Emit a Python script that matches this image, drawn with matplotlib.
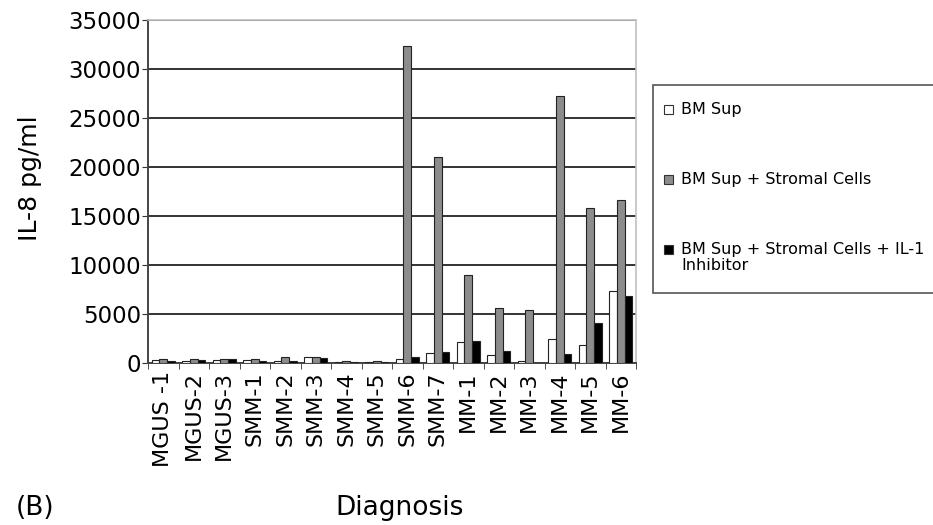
import numpy as np
import matplotlib.pyplot as plt
from matplotlib.patches import Rectangle

plt.rcParams['font.family'] = ['DejaVu Sans']

# values (pg/ml)
diagnosis = ["MGUS -1", "MGUS-2", "MGUS-3", "SMM-1", "SMM-2", "SMM-3", "SMM-4",
             "SMM-5", "SMM-6", "SMM-7", "MM-1", "MM-2", "MM-3", "MM-4", "MM-5", "MM-6"]
bm_sup = [300, 250, 300, 300, 200, 650, 100, 100, 400, 1050, 2150, 800, 230, 2500, 1850, 7300]
bm_stromal = [400, 400, 450, 400, 650, 650, 250, 250, 32300, 21000, 8950, 5600, 5450, 27200, 15800, 16600]
bm_stromal_inh = [250, 300, 400, 200, 200, 550, 150, 150, 650, 1100, 2250, 1250, 50, 950, 4100, 6800]
labels = ["BM Sup", "BM Sup + Stromal Cells", "BM Sup + Stromal Cells + IL-1\nInhibitor"]
colors = ["white", "#8c8c8c", "black"]

fig = plt.figure(figsize=(9.33, 5.25), dpi=100)
ax = fig.add_axes([148/933, 1-363/525, 488/933, 343/525])

x = np.arange(len(diagnosis))
w = 0.25
for i, vals in enumerate([bm_sup, bm_stromal, bm_stromal_inh]):
    ax.bar(x + (i-1)*w, vals, w, color=colors[i], edgecolor="#222222", linewidth=0.8, zorder=3)

ax.set_xlim(-0.5, len(diagnosis)-0.5)
ax.set_ylim(0, 35000)
ax.set_yticks(np.arange(0, 35001, 5000))
ax.yaxis.grid(True, color="#333333", linewidth=1.4, zorder=0)
ax.set_xticks(x)
ax.set_xticklabels(diagnosis, rotation=90, fontsize=16)
ax.set_xticks(np.arange(-0.5, len(diagnosis), 1), minor=True)
ax.tick_params(axis="x", which="major", length=0, pad=6)
ax.tick_params(axis="x", which="minor", length=4, direction="out", color="#333333")
ax.tick_params(axis="y", length=4, direction="out", labelsize=16.5, color="#333333", pad=1)
for s in ["top", "right"]:
    ax.spines[s].set_color("#c0c0c0")
    ax.spines[s].set_linewidth(1.2)
for s in ["left", "bottom"]:
    ax.spines[s].set_color("#444444")
    ax.spines[s].set_linewidth(1.4)

fig.text(30/933, 1-178/525, "IL-8 pg/ml", rotation=90, fontsize=18, ha="center", va="center")
fig.text(400/933, 1-508/525, "Diagnosis", fontsize=19, ha="center", va="center")
fig.text(16/933, 1-508/525, "(B)", fontsize=19, ha="left", va="center")

# legend box
fig.patches.append(Rectangle((653/933, 1-293/525), 300/933, 208/525, transform=fig.transFigure,
                             facecolor="white", edgecolor="#555555", linewidth=1.2))
ys = [109, 179, 249]
for lab, c, yy in zip(labels, colors, ys):
    fig.patches.append(Rectangle((664/933, 1-(yy+4.5)/525), 9/933, 9/525, transform=fig.transFigure,
                                 facecolor=c, edgecolor="#333333", linewidth=0.8))
    fig.text(681/933, 1-(yy-7)/525, lab, fontsize=11.5, ha="left", va="top", linespacing=1.05)

plt.savefig("out.png", dpi=100)
